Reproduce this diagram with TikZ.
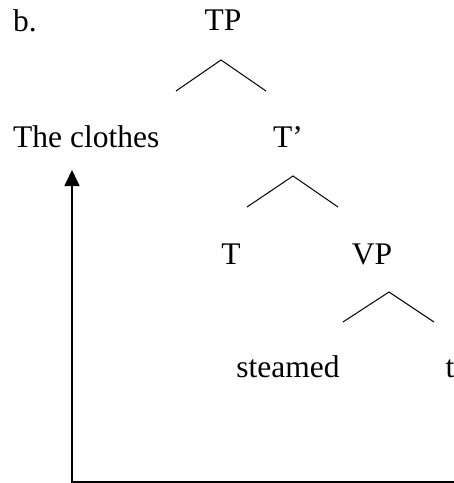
\documentclass[tikz,border=0pt]{standalone}
\usepackage{fontspec}
\setmainfont{Liberation Serif}
\usetikzlibrary{arrows.meta}
\begin{document}
\begin{tikzpicture}[x=1pt,y=-1pt,
  lbl/.style={inner sep=0pt,font=\fontsize{31.5}{34}\selectfont},
  br/.style={line width=1pt},
  mv/.style={line width=1.6pt}]
\useasboundingbox (0,0) rectangle (454,483);
\node[lbl,anchor=base west] (b) at (13,31) {b.};
\node[lbl,anchor=base] (TP) at (223,30) {TP};
\coordinate (a1) at (221,60);
\draw[br] (176,91) -- (a1) -- (266,91);
\node[lbl,anchor=base west] (clothes) at (13,147) {The clothes};
\node[lbl,anchor=base] (Tb) at (288,147) {T’};
\coordinate (a2) at (293,176);
\draw[br] (247,207) -- (a2) -- (338,207);
\node[lbl,anchor=base] (T) at (231,264) {T};
\node[lbl,anchor=base] (VP) at (372,264) {VP};
\coordinate (a3) at (389,292);
\draw[br] (343,322) -- (a3) -- (434,322);
\node[lbl,anchor=base] (steamed) at (288,377) {steamed};
\node[lbl,anchor=base] (t) at (450,377) {t};
\coordinate (c1) at (454,482);
\coordinate (c2) at (72,482);
\coordinate (c3) at (72,170);
\draw[mv,-{Triangle[width=15pt,length=16pt]}] (c1) -- (c2) -- (c3);
\end{tikzpicture}
\end{document}
